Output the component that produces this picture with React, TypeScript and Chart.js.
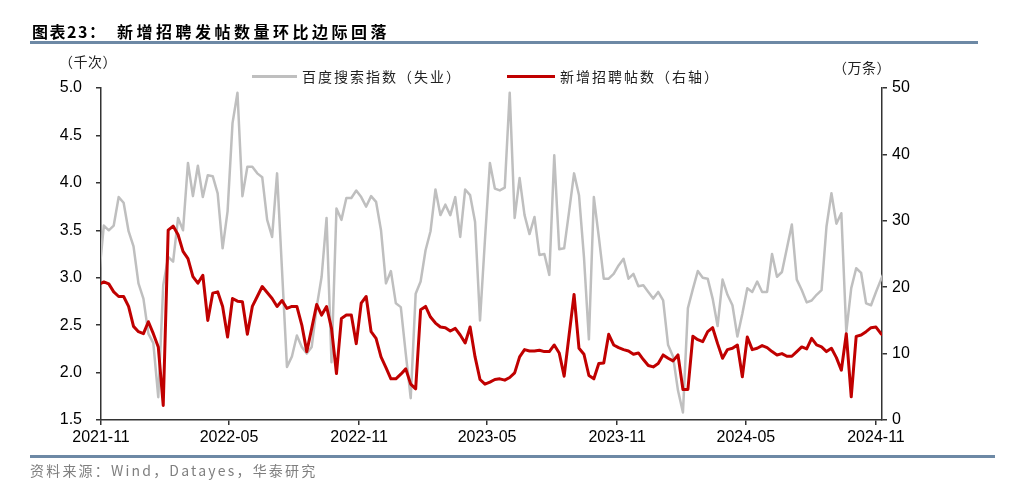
import React, { useEffect, useRef } from "react";
import { Chart, registerables } from "chart.js";

Chart.register(...registerables);

// Weekly observations. Position = day offset counted from 2021-11-01.
const FIRST_WEEK_DAY = -3;

// 百度搜索指数（失业）, 千次, left axis
const baiduIndex = [
  3.0, 3.55, 3.5, 3.55, 3.85, 3.79, 3.49, 3.33, 2.94, 2.78,
  2.41, 2.31, 1.74, 2.92, 3.22, 3.17, 3.63, 3.5, 4.21, 3.86,
  4.18, 3.85, 4.08, 4.07, 3.89, 3.31, 3.7, 4.63, 4.95, 3.86,
  4.17, 4.17, 4.1, 4.06, 3.61, 3.43, 4.1, 3.08, 2.06, 2.17,
  2.39, 2.27, 2.2, 2.27, 2.69, 3.01, 3.63, 2.11, 3.73, 3.61,
  3.84, 3.84, 3.92, 3.85, 3.75, 3.86, 3.8, 3.5, 2.94, 3.07,
  2.73, 2.69, 2.2, 1.73, 2.83, 2.96, 3.29, 3.49, 3.93, 3.66,
  3.77, 3.66, 3.85, 3.43, 3.93, 3.87, 3.59, 2.55, 3.4, 4.21,
  3.94, 3.92, 3.95, 4.95, 3.63, 4.05, 3.66, 3.46, 3.64, 3.24,
  3.25, 3.03, 4.29, 3.3, 3.31, 3.7, 4.1, 3.87, 3.22, 2.35,
  3.85, 3.43, 2.99, 2.99, 3.04, 3.13, 3.2, 2.99, 3.04, 2.91,
  2.92, 2.85, 2.78, 2.85, 2.76, 2.29, 2.17, 1.81, 1.58, 2.68,
  2.88, 3.07, 3.0, 2.99, 2.78, 2.49, 2.98, 2.82, 2.71, 2.38,
  2.62, 2.89, 2.85, 2.96, 2.85, 2.85, 3.25, 3.01, 3.06, 3.31,
  3.56, 2.98, 2.87, 2.74, 2.76, 2.82, 2.87, 3.54, 3.89, 3.57,
  3.68, 2.43, 2.89, 3.1, 3.05, 2.73, 2.71, 2.85, 2.98, 3.1,
];

// 新增招聘帖数, 万条, right axis
const newPosts = [
  20.4, 20.8, 20.5, 19.3, 18.6, 18.6, 17.1, 14.1, 13.3, 13.0,
  14.8, 13.0, 11.0, 2.2, 28.6, 29.2, 27.9, 25.4, 24.3, 21.6,
  20.6, 21.8, 15.0, 19.1, 19.3, 17.1, 12.5, 18.3, 17.9, 17.8,
  12.9, 17.1, 18.6, 20.1, 19.2, 18.3, 17.1, 18.0, 16.8, 17.1,
  17.1, 14.3, 10.3, 13.8, 17.4, 15.8, 17.1, 13.8, 7.0, 15.3,
  15.8, 15.8, 11.5, 17.6, 18.6, 13.3, 12.3, 9.5, 7.9, 6.2,
  6.2, 6.9, 7.7, 5.4, 4.7, 16.6, 17.1, 15.5, 14.6, 14.0,
  13.9, 13.4, 13.8, 12.8, 11.6, 14.0, 9.5, 6.1, 5.4, 5.7,
  6.1, 6.2, 6.0, 6.4, 7.1, 9.5, 10.6, 10.4, 10.4, 10.5,
  10.3, 10.3, 11.3, 10.1, 6.6, 12.8, 18.9, 10.8, 9.9, 6.7,
  6.2, 8.5, 8.6, 12.9, 11.3, 10.9, 10.6, 10.4, 9.9, 10.1,
  9.1, 8.2, 8.0, 8.5, 9.8, 9.3, 8.9, 9.8, 4.6, 4.6,
  12.6, 12.1, 11.8, 13.3, 13.9, 11.5, 9.3, 10.6, 10.8, 11.3,
  6.5, 12.5, 10.6, 10.8, 11.2, 10.9, 10.3, 9.8, 10.0, 9.6,
  9.6, 10.3, 11.0, 10.7, 12.3, 11.3, 11.0, 10.3, 10.8, 9.4,
  7.5, 13.0, 3.5, 12.6, 12.8, 13.3, 13.9, 14.0, 13.0, 12.5,
];

const weekDays = baiduIndex.map((_, i) => FIRST_WEEK_DAY + 7 * i);

// x-axis ticks (day offsets of month starts)
const xTickDays = [0, 181, 365, 546, 730, 912, 1096];
const xTickLabels = ["2021-11", "2022-05", "2022-11", "2023-05", "2023-11", "2024-05", "2024-11"];
const X_MAX_DAY = 1104.5;

const leftMin = 1.5;
const leftMax = 5.0;
const leftStep = 0.5;
const rightMin = 0;
const rightMax = 50;
const rightStep = 10;

const titlePrefix = "图表23：";
const titleText = "新增招聘发帖数量环比边际回落";
const leftUnit = "（千次）";
const rightUnit = "（万条）";
const legendGray = "百度搜索指数（失业）";
const legendRed = "新增招聘帖数（右轴）";
const sourceText = "资料来源：Wind，Datayes，华泰研究";

const GRAY = "#bfbfbf";
const RED = "#c00000";
const AXIS = "#333333";
const CJK = "'Noto Sans CJK SC', 'Noto Sans', sans-serif";
const LATIN = "'Liberation Sans', Arial, sans-serif";

export default function App() {
  const canvasRef = useRef<HTMLCanvasElement | null>(null);

  useEffect(() => {
    const canvas = canvasRef.current;
    if (!canvas) return;
    const tickFont = { family: LATIN, size: 16 };
    const chart = new Chart(canvas, {
      type: "line",
      data: {
        datasets: [
          {
            label: legendGray,
            data: weekDays.map((x, i) => ({ x, y: baiduIndex[i] })),
            borderColor: GRAY,
            borderWidth: 2.5,
            pointRadius: 0,
            tension: 0,
            yAxisID: "yL",
            order: 2,
            clip: 0,
            borderJoinStyle: "round",
          },
          {
            label: legendRed,
            data: weekDays.map((x, i) => ({ x, y: newPosts[i] })),
            borderColor: RED,
            borderWidth: 3,
            pointRadius: 0,
            tension: 0,
            yAxisID: "yR",
            order: 1,
            clip: 0,
            borderJoinStyle: "round",
          },
        ],
      },
      options: {
        animation: false,
        responsive: false,
        maintainAspectRatio: false,
        devicePixelRatio: 1,
        layout: { padding: { top: 88, left: 0, right: 0, bottom: 0 } },
        plugins: { legend: { display: false }, tooltip: { enabled: false } },
        events: [],
        scales: {
          x: {
            type: "linear",
            min: 0,
            max: X_MAX_DAY,
            afterBuildTicks: (scale: any) => {
              scale.ticks = xTickDays.map((v) => ({ value: v }));
            },
            afterFit: (scale: any) => {
              scale.height = 75;
            },
            ticks: {
              autoSkip: false,
              maxRotation: 0,
              minRotation: 0,
              padding: 3,
              color: "#000",
              font: tickFont,
              callback: (_v: any, i: number) => xTickLabels[i],
            },
            grid: {
              drawOnChartArea: false,
              drawTicks: true,
              tickLength: 5,
              color: AXIS,
              lineWidth: 1.5,
            },
            border: { display: true, color: AXIS, width: 1.5 },
          },
          yL: {
            type: "linear",
            position: "left",
            min: leftMin,
            max: leftMax,
            afterFit: (scale: any) => {
              scale.width = 101;
            },
            ticks: {
              stepSize: leftStep,
              padding: 14,
              color: "#000",
              font: tickFont,
              callback: (v: any) => Number(v).toFixed(1),
            },
            grid: {
              drawOnChartArea: false,
              drawTicks: true,
              tickLength: 5,
              color: AXIS,
              lineWidth: 1.5,
            },
            border: { display: true, color: AXIS, width: 1.5 },
          },
          yR: {
            type: "linear",
            position: "right",
            min: rightMin,
            max: rightMax,
            afterFit: (scale: any) => {
              scale.width = 145;
            },
            ticks: {
              stepSize: rightStep,
              padding: 5,
              color: "#000",
              font: tickFont,
              callback: (v: any) => String(v),
            },
            grid: {
              drawOnChartArea: false,
              drawTicks: true,
              tickLength: 5,
              color: AXIS,
              lineWidth: 1.5,
            },
            border: { display: true, color: AXIS, width: 1.5 },
          },
        },
      },
    } as any);
    return () => chart.destroy();
  }, []);

  const abs = (s: React.CSSProperties): React.CSSProperties => ({ position: "absolute", whiteSpace: "nowrap", ...s });

  return (
    <div style={{ position: "absolute", left: 0, top: 0, width: 1027, height: 495, background: "#fff", overflow: "hidden" }}>
      <canvas ref={canvasRef} width={1027} height={495} style={{ position: "absolute", left: 0, top: 0, width: 1027, height: 495 }} />
      {/* title */}
      <div style={abs({ left: 32, top: 21, height: 20, lineHeight: "20px", fontFamily: CJK, fontWeight: 700, fontSize: 16, color: "#000", letterSpacing: 1.5 })}>
        {titlePrefix}
      </div>
      <div style={abs({ left: 117, top: 21, height: 20, lineHeight: "20px", fontFamily: CJK, fontWeight: 700, fontSize: 16, color: "#000", letterSpacing: 3.5 })}>
        {titleText}
      </div>
      <div style={abs({ left: 30, top: 41, width: 948, height: 2.5, background: "#6d89a5" })} />
      {/* units */}
      <div style={abs({ left: 59, top: 52, height: 18, lineHeight: "18px", fontFamily: CJK, fontSize: 14, color: "#222", letterSpacing: 0.5 })}>{leftUnit}</div>
      <div style={abs({ left: 833, top: 58, height: 18, lineHeight: "18px", fontFamily: CJK, fontSize: 14, color: "#222", letterSpacing: 0.5 })}>{rightUnit}</div>
      {/* legend */}
      <div style={abs({ left: 252, top: 74.5, width: 45, height: 3, background: GRAY })} />
      <div style={abs({ left: 302, top: 67, height: 18, lineHeight: "18px", fontFamily: CJK, fontSize: 14, color: "#222", letterSpacing: 2 })}>{legendGray}</div>
      <div style={abs({ left: 507, top: 74.5, width: 48, height: 3, background: RED })} />
      <div style={abs({ left: 560, top: 67, height: 18, lineHeight: "18px", fontFamily: CJK, fontSize: 14, color: "#222", letterSpacing: 2 })}>{legendRed}</div>
      {/* bottom rule and source */}
      <div style={abs({ left: 30, top: 455, width: 965, height: 2.5, background: "#6d89a5" })} />
      <div style={abs({ left: 30, top: 461, height: 18, lineHeight: "18px", fontFamily: CJK, fontSize: 14, color: "#7f7f7f", letterSpacing: 2.2 })}>{sourceText}</div>
    </div>
  );
}
